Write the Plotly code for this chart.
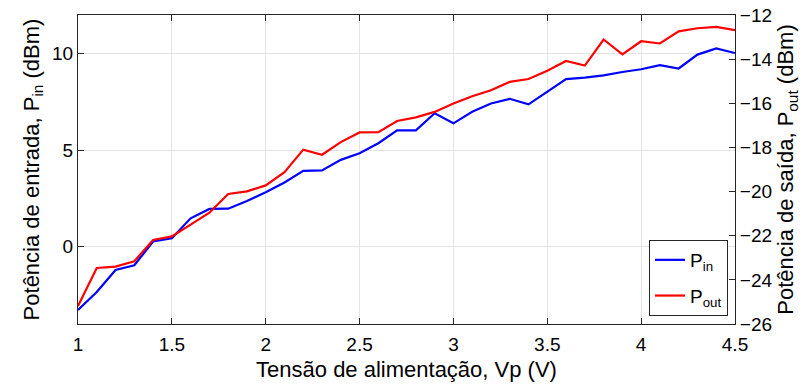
import plotly.graph_objects as go

# Supply voltage sweep (V)
vp = [1.0, 1.1, 1.2, 1.3, 1.4, 1.5, 1.6, 1.7, 1.8, 1.9, 2.0, 2.1, 2.2, 2.3, 2.4, 2.5,
      2.6, 2.7, 2.8, 2.9, 3.0, 3.1, 3.2, 3.3, 3.4, 3.5, 3.6, 3.7, 3.8, 3.9, 4.0, 4.1,
      4.2, 4.3, 4.4, 4.5]

# Input power (dBm), left axis
p_in = [-3.27, -2.34, -1.20, -0.96, 0.27, 0.44, 1.47, 1.96, 1.97, 2.37, 2.82, 3.33,
        3.93, 3.95, 4.50, 4.84, 5.36, 6.03, 6.03, 6.91, 6.39, 6.99, 7.42, 7.66,
        7.37, 8.02, 8.68, 8.76, 8.87, 9.05, 9.19, 9.40, 9.23, 9.95, 10.27, 10.03]

# Output power (dBm), right axis
p_out = [-25.18, -23.46, -23.40, -23.16, -22.19, -22.03, -21.50, -20.96, -20.11,
         -19.99, -19.72, -19.12, -18.10, -18.33, -17.76, -17.32, -17.31, -16.80,
         -16.64, -16.39, -16.01, -15.68, -15.41, -15.03, -14.90, -14.53, -14.08,
         -14.29, -13.11, -13.78, -13.19, -13.29, -12.74, -12.60, -12.54, -12.69]

x_ticks = [1, 1.5, 2, 2.5, 3, 3.5, 4, 4.5]
left_ticks = [0, 5, 10]
right_ticks = [-26, -24, -22, -20, -18, -16, -14, -12]

font_family = "Liberation Sans, Arial, sans-serif"
axis_color = "#262626"
tick_font = dict(family=font_family, size=19, color="#000000")
title_font = dict(family=font_family, size=22, color="#000000")

fig = go.Figure()
fig.add_trace(go.Scatter(x=vp, y=p_in, mode="lines", name="P<sub>in</sub>",
                         legendgroup="pin",
                         line=dict(color="#0000FF", width=2.2)))
fig.add_trace(go.Scatter(x=vp, y=p_out, mode="lines", name="P<sub>out</sub>",
                         legendgroup="pout",
                         line=dict(color="#FF0000", width=2.2), yaxis="y2"))

fig.update_layout(
    width=810, height=387,
    margin=dict(l=78, r=75, t=15, b=63),
    paper_bgcolor="white", plot_bgcolor="white",
    font=dict(family=font_family, size=18, color="#000000"),
    showlegend=True,
    legend=dict(
        x=1 - 7 / 657, y=8 / 309, xanchor="right", yanchor="bottom",
        bgcolor="white", bordercolor="#262626", borderwidth=1,
        font=dict(family=font_family, size=19), itemwidth=30,
        tracegroupgap=8,
    ),
    xaxis=dict(
        range=[1, 4.5], tickvals=x_ticks, ticktext=[f"{v:g}" for v in x_ticks],
        tickfont=tick_font, automargin=False, ticklabelstandoff=3,
        showgrid=True, gridcolor="#E3E3E3", gridwidth=1,
        showline=True, linecolor=axis_color, linewidth=1, mirror="ticks",
        ticks="inside", ticklen=6, tickcolor=axis_color,
        zeroline=False,
        title=dict(text="Tensão de alimentação, Vp (V)", font=title_font, standoff=7),
    ),
    yaxis=dict(
        range=[-4, 12], tickvals=left_ticks, tickfont=tick_font, automargin=False,
        showgrid=True, gridcolor="#E3E3E3", gridwidth=1,
        showline=True, linecolor=axis_color, linewidth=1,
        ticks="inside", ticklen=6, tickcolor=axis_color,
        zeroline=False,
        title=dict(text="Potência de entrada, P<sub>in</sub> (dBm)", font=title_font,
                   standoff=6),
    ),
    yaxis2=dict(
        range=[-26, -12], tickvals=right_ticks, overlaying="y", side="right",
        tickfont=tick_font, automargin=False,
        showgrid=False,
        showline=True, linecolor=axis_color, linewidth=1,
        ticks="inside", ticklen=6, tickcolor=axis_color,
        zeroline=False,
        title=dict(text="Potência de saída, P<sub>out</sub> (dBm)", font=title_font,
                   standoff=6),
    ),
)

fig.write_html("out.html")
